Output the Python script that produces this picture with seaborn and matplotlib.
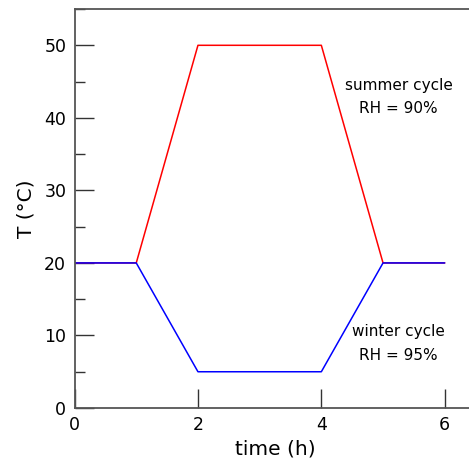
import numpy as np
import pandas as pd
import seaborn as sns
import matplotlib.pyplot as plt
from matplotlib.ticker import MultipleLocator

# temperature cycles (time in h, T in deg C)
time_h = [0, 1, 2, 4, 5, 6]
summer_T = [20, 20, 50, 50, 20, 20]
winter_T = [20, 20, 5, 5, 20, 20]

sns.set_style("ticks")
plt.rcParams['font.family'] = ['DejaVu Sans']
plt.rcParams['text.color'] = 'black'
plt.rcParams['axes.labelcolor'] = 'black'

fig = plt.figure(figsize=(4.69, 4.75), dpi=100)
ax = fig.add_axes([0.159, 0.141, 0.855, 0.840])

summer_df = pd.DataFrame({'time': time_h, 'T': summer_T})
winter_df = pd.DataFrame({'time': time_h, 'T': winter_T})
sns.lineplot(x='time', y='T', data=summer_df, color='red', linewidth=1.1, ax=ax)
sns.lineplot(x='time', y='T', data=winter_df, color='blue', linewidth=1.1, ax=ax)

ax.set_xlim(0, 6.5)
ax.set_ylim(0, 55)
ax.xaxis.set_major_locator(MultipleLocator(2))
ax.yaxis.set_major_locator(MultipleLocator(10))
ax.yaxis.set_minor_locator(MultipleLocator(5))
ax.tick_params(which='major', direction='in', length=14, width=1, labelsize=12.5,
               colors='#333333', labelcolor='black', pad=6)
ax.tick_params(which='minor', direction='in', length=7, width=1, colors='#333333')
ax.tick_params(axis='x', top=False)

for side in ['left', 'bottom', 'top']:
    ax.spines[side].set_color('#555555')
    ax.spines[side].set_linewidth(1.3)
ax.spines['right'].set_visible(False)

ax.set_xlabel('time (h)', fontsize=14.5, labelpad=4)
ax.set_ylabel('T (°C)', fontsize=14.5, labelpad=6)

ax.text(5.25, 44.5, 'summer cycle', ha='center', va='center', fontsize=11)
ax.text(5.25, 41.3, 'RH = 90%', ha='center', va='center', fontsize=11)
ax.text(5.25, 10.5, 'winter cycle', ha='center', va='center', fontsize=11)
ax.text(5.25, 7.3, 'RH = 95%', ha='center', va='center', fontsize=11)

fig.savefig('out.png', dpi=100)
